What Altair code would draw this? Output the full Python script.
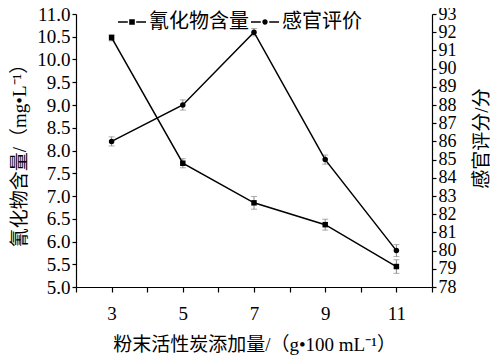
import altair as alt
import pandas as pd

# ---- data ----
x_vals = [3, 5, 7, 9, 11]
cyanide = [10.48, 7.72, 6.85, 6.37, 5.45]
cyanide_err = [0.07, 0.10, 0.14, 0.12, 0.15]
sensory = [86, 88, 92, 85, 80]
sensory_err = [0.25, 0.28, 0.20, 0.25, 0.33]
series_names = ["氰化物含量", "感官评价"]

x_title = "粉末活性炭添加量/（g•100 mL⁻¹）"
y_left_title = "氰化物含量/（mg•L⁻¹）"
y_right_title = "感官评分/分"

df_c = pd.DataFrame({"x": x_vals, "y": cyanide,
                     "lo": [v - e for v, e in zip(cyanide, cyanide_err)],
                     "hi": [v + e for v, e in zip(cyanide, cyanide_err)]})
df_s = pd.DataFrame({"x": x_vals, "y": sensory,
                     "lo": [v - e for v, e in zip(sensory, sensory_err)],
                     "hi": [v + e for v, e in zip(sensory, sensory_err)]})
df_leg = pd.DataFrame({"s": series_names, "x": [x_vals[0]] * 2, "y": [cyanide[0]] * 2})

FONT = "Liberation Serif, Noto Sans CJK SC"
TOP = 6
H = 273

x_enc = alt.X("x:Q",
              scale=alt.Scale(domain=[2, 12], nice=False, zero=False),
              axis=alt.Axis(values=list(range(2, 13)), title=x_title,
                            labelExpr="datum.value % 2 == 1 ? datum.label : ''",
                            titlePadding=12, labelPadding=12, tickSize=5))

left_scale = alt.Scale(domain=[5, 11], nice=False, zero=False)
left_axis = alt.Axis(values=[5 + 0.5 * i for i in range(13)], format=".1f",
                     title=y_left_title, titlePadding=7, tickSize=4, labelPadding=2,
                     labelOverlap=False)
right_scale = alt.Scale(domain=[78, 93], nice=False, zero=False)
right_axis = alt.Axis(values=list(range(78, 94)), orient="right",
                      title=y_right_title, tickSize=4, labelPadding=2,
                      labelOverlap=False, labelFontSize=18,
                      titleAngle=270, titleX=49, titleY=124,
                      titleAlign="center", titleBaseline="middle")

# left group (cyanide)
err_c = alt.Chart(df_c).mark_errorbar(ticks={"size": 6, "color": "#888888"},
                                      color="#888888", thickness=1).encode(
    x=x_enc, y=alt.Y("lo:Q", scale=left_scale, axis=left_axis, title=y_left_title),
    y2="hi:Q")
line_c = alt.Chart(df_c).mark_line(color="black", strokeWidth=1.5).encode(
    x=x_enc, y=alt.Y("y:Q", scale=left_scale, axis=left_axis, title=y_left_title))
pts_c = alt.Chart(df_c).mark_point(shape="square", filled=True, color="black",
                                   size=30, opacity=1).encode(
    x=x_enc, y=alt.Y("y:Q", scale=left_scale, axis=left_axis, title=y_left_title))

dashes = "M-1,-0.05H-0.3V0.05H-1Z M0.3,-0.05H1V0.05H0.3Z "
sym_sq = dashes + "M-0.2,-0.2H0.2V0.2H-0.2Z"
sym_ci = dashes + "M0.19,0A0.19,0.19,0,1,1,-0.19,0A0.19,0.19,0,1,1,0.19,0Z"
leg = alt.Chart(df_leg).mark_point(filled=True, opacity=0, color="black").encode(
    x=x_enc, y=alt.Y("y:Q", scale=left_scale, axis=left_axis, title=y_left_title),
    shape=alt.Shape("s:N", scale=alt.Scale(domain=series_names, range=[sym_sq, sym_ci]),
                    legend=alt.Legend(title=None, orient="none", direction="horizontal",
                                      legendX=42, legendY=-TOP, symbolSize=784,
                                      symbolOpacity=1, symbolFillColor="black",
                                      symbolStrokeWidth=0,
                                      labelFont=FONT, labelFontSize=20, labelColor="black",
                                      labelOffset=3, columnPadding=2)))

left = alt.layer(err_c, line_c, pts_c, leg)

# right group (sensory)
err_s = alt.Chart(df_s).mark_errorbar(ticks={"size": 6, "color": "#888888"},
                                      color="#888888", thickness=1).encode(
    x=x_enc, y=alt.Y("lo:Q", scale=right_scale, axis=right_axis, title=y_right_title),
    y2="hi:Q")
line_s = alt.Chart(df_s).mark_line(color="black", strokeWidth=1.5).encode(
    x=x_enc, y=alt.Y("y:Q", scale=right_scale, axis=right_axis, title=y_right_title))
pts_s = alt.Chart(df_s).mark_point(shape="circle", filled=True, color="black",
                                   size=30, opacity=1).encode(
    x=x_enc, y=alt.Y("y:Q", scale=right_scale, axis=right_axis, title=y_right_title))
right = alt.layer(err_s, line_s, pts_s)

chart = alt.layer(left, right).resolve_scale(y="independent").properties(
    width=356, height=H,
    autosize=alt.AutoSizeParams(type="none"),
    padding={"left": 68, "top": TOP, "right": 58, "bottom": 68},
    background="white",
).configure_view(stroke=None).configure_axis(
    grid=False, domainColor="black", tickColor="black", domainWidth=1.2, tickWidth=1.2,
    labelFont=FONT, labelFontSize=19, labelColor="black",
    titleFont=FONT, titleFontSize=19, titleColor="black", titleFontWeight="normal",
)

chart.save("out.html", embed_options={"renderer": "svg", "actions": False})
